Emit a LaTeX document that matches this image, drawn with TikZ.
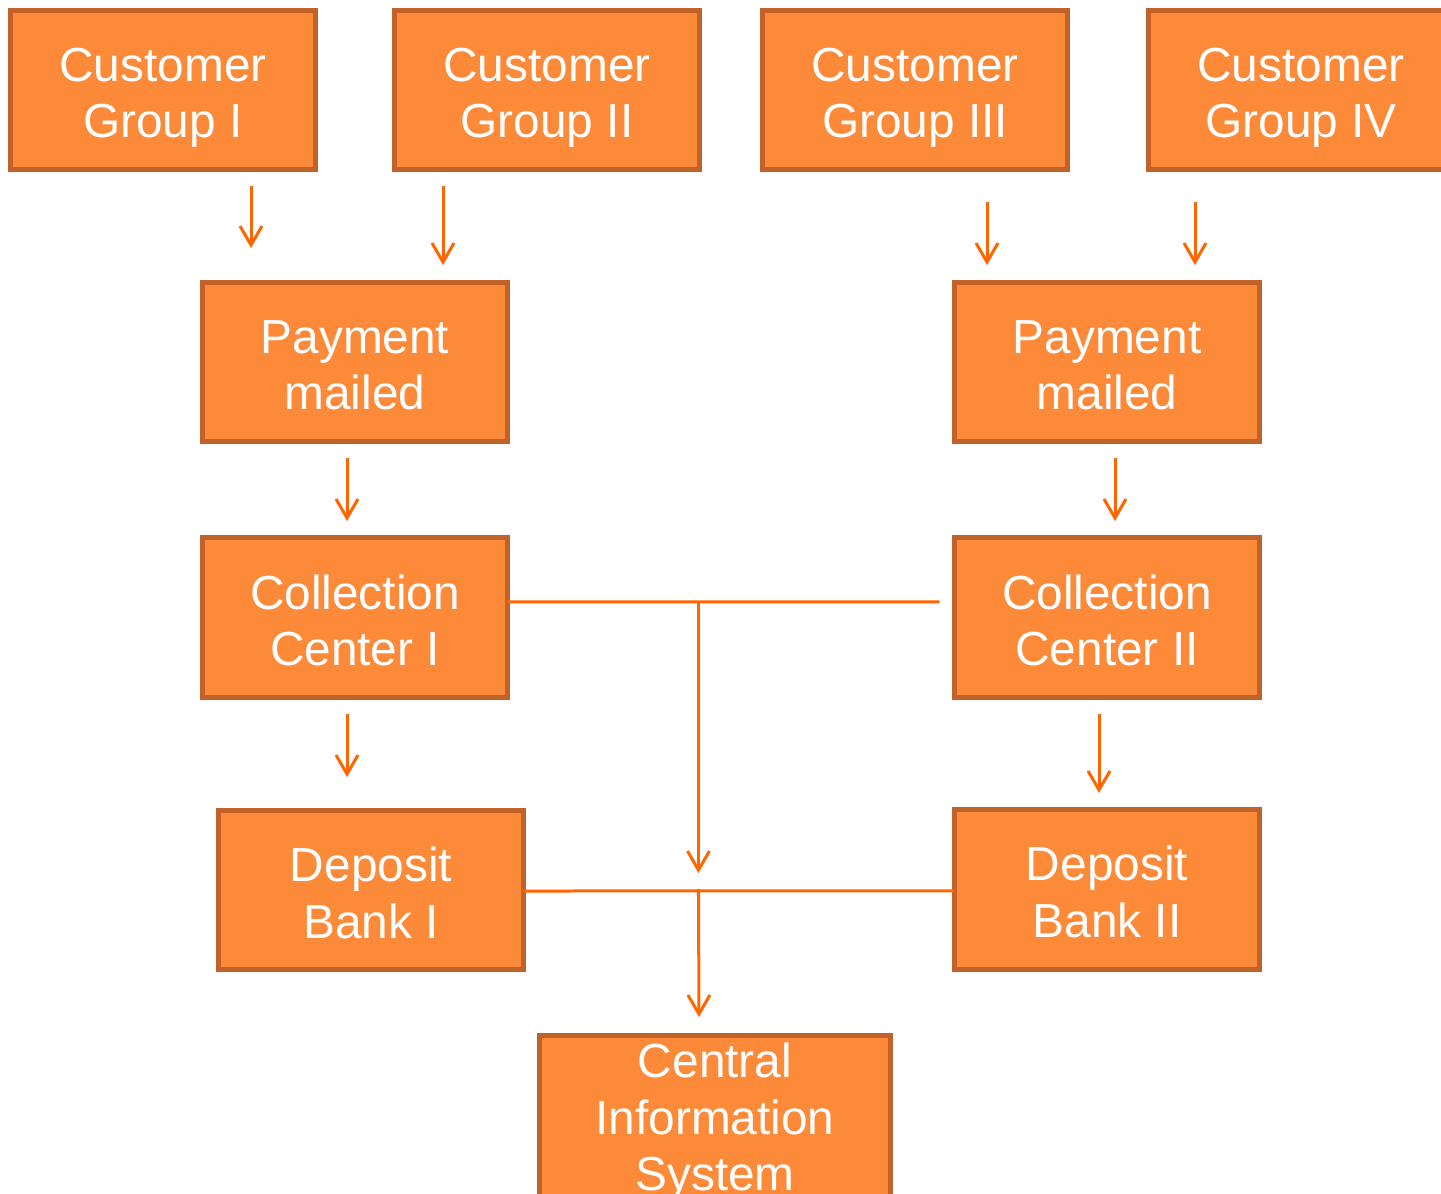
\documentclass[tikz,border=0pt]{standalone}
\usepackage{fontspec}
\setmainfont{Liberation Sans}
\usetikzlibrary{positioning, arrows.meta}

\definecolor{boxfill}{HTML}{FD8A38}
\definecolor{boxline}{HTML}{C0622A}
\definecolor{flowline}{HTML}{FF6600}

\begin{document}
\begin{tikzpicture}[
    x=0.02cm, y=-0.02cm,
    node distance=1.92cm,
    block/.style={rectangle, draw=boxline, fill=boxfill, line width=0.1cm, text=white, align=center, minimum width=6.1cm, minimum height=3.2cm, inner sep=0pt, outer sep=0pt, text height=1.92cm, text depth=0pt, font=\fontsize{27.2}{32.4}\selectfont},
    flow/.style={draw=flowline, line width=0.06cm},
    arrow/.style={flow, -{Straight Barb[length=0.38cm, width=0.44cm]}},
]
\useasboundingbox (0,0) rectangle (1441,1194);

% Nodes
\node [block] (cg1) at (163,90) {Customer\\Group I};
\node [block] (cg2) at (547,90) {Customer\\Group II};
\node [block] (cg3) at (915,90) {Customer\\Group III};
\node [block] (cg4) at (1301,90) {Customer\\Group IV};
\node [block] (pm1) at (355,362) {Payment\\mailed};
\node [block] (pm2) at (1107,362) {Payment\\mailed};
\node [block, below=of pm1] (cc1) {Collection\\Center I};
\node [block, below=of pm2] (cc2) {Collection\\Center II};
\node [block] (db1) at (371,890) {Deposit\\Bank I};
\node [block, below=2.24cm of cc2] (db2) {Deposit\\Bank II};
\node [block, minimum width=7.04cm, anchor=north, inner ysep=0.14cm, text height=2.98cm, text depth=0.2cm] (cis) at (715,1035) {Central\\Information\\System};

% Junctions
\coordinate (j1) at ([shift={(191,-16)}]cc1.east);
\coordinate (j2) at ([shift={(175,-1)}]db1.east);

% Lines
\draw [arrow] ([shift={(88,16)}]cg1.south) -- ([shift={(-104,-34)}]pm1.north);
\draw [arrow] ([shift={(-104,16)}]cg2.south) -- ([shift={(88,-17)}]pm1.north);
\draw [arrow] ([shift={(72,32)}]cg3.south) -- ([shift={(-120,-17)}]pm2.north);
\draw [arrow] ([shift={(-106,32)}]cg4.south) -- ([shift={(88,-17)}]pm2.north);
\draw [arrow] ([shift={(-8,16)}]pm1.south) -- ([shift={(-8,-17)}]cc1.north);
\draw [arrow] ([shift={(8,16)}]pm2.south) -- ([shift={(8,-17)}]cc2.north);
\draw [arrow] ([shift={(-8,16)}]cc1.south) -- ([shift={(-24,-33)}]db1.north);
\draw [arrow] ([shift={(-8,16)}]cc2.south) -- ([shift={(-8,-17)}]db2.north);
\draw [flow] ([yshift=0.32cm]cc1.east) -- ([shift={(-15,-16)}]cc2.west);
\draw [arrow] (j1) -- ([yshift=0.32cm]j2);
\draw [flow] ([yshift=-0.02cm]db1.east) -- ([yshift=-0.02cm]db2.west);
\draw [arrow] (j2) -- ([shift={(-16,-18)}]cis.north);

\end{tikzpicture}
\end{document}
